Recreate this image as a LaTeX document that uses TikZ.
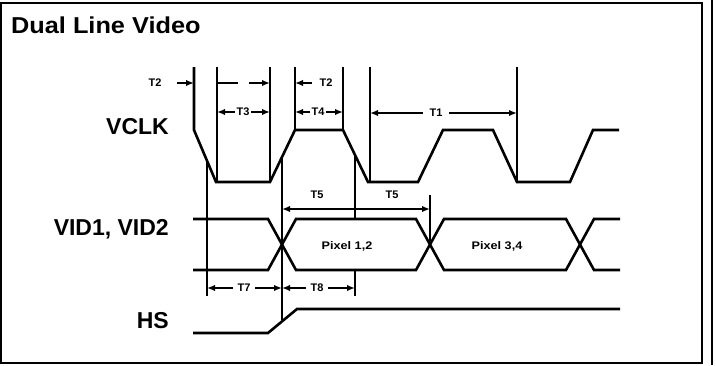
\documentclass[tikz,border=0pt]{standalone}
\usepackage{fontspec}
\setmainfont{Liberation Sans}
\usetikzlibrary{arrows.meta}
\begin{document}
\begin{tikzpicture}[x=1pt,y=-1pt,
  wave/.style={line width=2.6pt, line join=miter},
  refl/.style={line width=1.6pt},
  dim/.style={line width=1.7pt},
  tipR/.style={-{Latex[length=8pt,width=6.5pt]}},
  tipB/.style={{Latex[length=8pt,width=6.5pt]}-{Latex[length=8pt,width=6.5pt]}},
  sig/.style={font=\bfseries\fontsize{23}{23}\selectfont, anchor=east, inner sep=0pt},
  tl/.style={font=\bfseries\fontsize{11}{11}\selectfont, fill=white, inner sep=1.5pt},
  tlb/.style={font=\bfseries\fontsize{11}{11}\selectfont, inner sep=0pt},
  px/.style={font=\bfseries\fontsize{11}{11}\selectfont, inner sep=0pt}]
\useasboundingbox (0,0) rectangle (716,365);
\draw[line width=2pt] (1,3) rectangle (702,363);
\draw[line width=1.4pt] (712,0) -- (712,365);
\node[anchor=west, inner sep=0pt, font=\bfseries\fontsize{23}{23}\selectfont] (title) at (11,25) {\scalebox{1.1}[1]{Dual Line Video}};
% signal names
\node[sig] (vclk) at (169,127) {VCLK};
\node[sig] (vid) at (169,229) {VID1, VID2};
\node[sig] (hs) at (169,321) {HS};
% VCLK waveform
\draw[wave] (194,67) -- (194,130) -- (216,182) -- (270,182) -- (295,130) -- (343,130) -- (368,182) -- (418,182) -- (443,130) -- (493,130) -- (517,182) -- (570,182) -- (593,130) -- (619,130);
% VID bus
\draw[wave] (193,219) -- (268,219) -- (296,270) -- (416,270) -- (444,219) -- (566,219) -- (594,270) -- (620,270);
\draw[wave] (193,270) -- (268,270) -- (296,219) -- (416,219) -- (444,270) -- (566,270) -- (594,219) -- (620,219);
\node[px] (p12) at (347,246) {\scalebox{1.15}[1]{Pixel 1,2}};
\node[px] (p34) at (497,246) {\scalebox{1.15}[1]{Pixel 3,4}};
% HS
\draw[wave] (193,333) -- (268,333) -- (297,309) -- (620,309);
% reference lines
\coordinate (a1) at (217,67);  \coordinate (a2) at (217,182);
\coordinate (b1) at (270,67);  \coordinate (b2) at (270,182);
\coordinate (c1) at (295,67);  \coordinate (c2) at (295,130);
\coordinate (d1) at (343,67);  \coordinate (d2) at (343,130);
\coordinate (e1) at (370,67);  \coordinate (e2) at (370,182);
\coordinate (f1) at (517,67);  \coordinate (f2) at (517,182);
\coordinate (g1) at (207,160); \coordinate (g2) at (207,296);
\coordinate (h1) at (282,156); \coordinate (h2) at (282,320);
\coordinate (i1) at (355,156); \coordinate (i2) at (355,219);
\coordinate (k1) at (355,270); \coordinate (k2) at (355,296);
\coordinate (j1) at (430,195); \coordinate (j2) at (430,245);
\foreach \p in {a,b,c,d,e,f,g,h,i,k,j} \draw[refl] (\p1) -- (\p2);
% T2
\node[tlb] (t2a) at (155,83) {T2};
\coordinate (t2a1) at (177,83); \coordinate (t2a2) at (194,83);
\draw[dim,tipR] (t2a1) -- (t2a2);
\coordinate (t2b1) at (238,83); \coordinate (t2b2) at (217,83);
\draw[dim] (t2b1) -- (t2b2);
\coordinate (t2c1) at (249,83); \coordinate (t2c2) at (270,83);
\draw[dim,tipR] (t2c1) -- (t2c2);
\coordinate (t2d1) at (312,83); \coordinate (t2d2) at (295,83);
\draw[dim,tipR] (t2d1) -- (t2d2);
\node[tlb] (t2b) at (326,83) {T2};
% T3
\coordinate (t3l) at (217,112); \coordinate (t3r) at (270,112);
\draw[dim,tipB] (t3l) -- (t3r);
\node[tl] (t3) at (243,112) {T3};
% T4
\coordinate (t4l) at (295,112); \coordinate (t4r) at (343,112);
\draw[dim,tipB] (t4l) -- (t4r);
\node[tl] (t4) at (318,112) {T4};
% T1
\coordinate (t1l) at (370,113); \coordinate (t1r) at (517,113);
\draw[dim,tipB] (t1l) -- (t1r);
\node[tl, inner xsep=7pt] (t1) at (436,113) {T1};
% T5
\coordinate (t5l) at (282,209); \coordinate (t5r) at (430,209);
\draw[dim,tipB] (t5l) -- (t5r);
\node[tlb] (t5a) at (317,195) {T5};
\node[tlb] (t5b) at (392,195) {T5};
% T7, T8
\coordinate (t7l) at (207,288); \coordinate (t7r) at (282,288); \coordinate (t8r) at (355,288);
\draw[dim,tipB] (t7l) -- (t7r);
\draw[dim,tipB] (t7r) -- (t8r);
\node[tl, inner xsep=5pt] (t7) at (244,288) {T7};
\node[tl, inner xsep=5pt] (t8) at (317,288) {T8};
\end{tikzpicture}
\end{document}
